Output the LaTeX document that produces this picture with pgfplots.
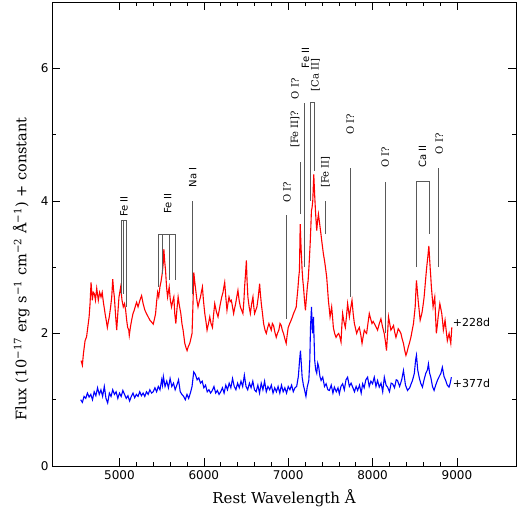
\documentclass[border=0pt]{standalone}
\usepackage{pgfplots}
\pgfplotsset{compat=1.18}
\usepackage{fontspec}
\setmainfont{DejaVu Serif}
\newfontfamily\sansf{DejaVu Sans}
\definecolor{annot}{gray}{0.35}
\begin{document}
\begin{tikzpicture}
\begin{axis}[
  scale only axis, width=464pt, height=464pt,
  xmin=4200, xmax=9700, ymin=0, ymax=7,
  xtick={5000,6000,7000,8000,9000}, ytick={0,2,4,6},
  minor x tick num=4, minor y tick num=1,
  major tick length=8pt, minor tick length=4pt,
  tick style={black, line width=0.6pt},
  axis line style={line width=0.8pt},
  /pgf/number format/assume math mode=true,
  /pgf/number format/1000 sep={},
  ticklabel style={font=\sansf\fontsize{12}{14}\selectfont},
  xticklabel style={yshift=-1pt},
  xlabel={Rest Wavelength Å},
  ylabel={Flux (10\textsuperscript{−17} erg s\textsuperscript{−1} cm\textsuperscript{−2} Å\textsuperscript{−1}) + constant},
  xlabel style={font=\fontsize{15}{17}\selectfont, at={(axis description cs:0.5,-0.069)}, anchor=center},
  ylabel style={font=\fontsize{14.5}{17}\selectfont, at={(axis description cs:-0.066,0.425)}, anchor=center},
]
\addplot[red, line width=1.1pt] coordinates {
(4545,1.59)(4560,1.52)(4572,1.69)(4592,1.89)(4610,1.95)(4624,2.09)(4640,2.25)(4651,2.45)(4663,2.77)(4678,2.50)(4690,2.62)(4702,2.60)(4715,2.50)(4730,2.68)(4749,2.50)(4765,2.62)(4781,2.55)(4795,2.62)(4809,2.47)(4820,2.38)(4829,2.30)(4845,2.18)(4856,2.09)(4868,2.18)(4879,2.25)(4895,2.40)(4908,2.55)(4920,2.82)(4930,2.65)(4939,2.55)(4955,2.25)(4967,2.05)(4980,2.30)(4994,2.55)(5014,2.70)(5030,2.50)(5045,2.40)(5060,2.45)(5073,2.35)(5085,2.20)(5097,2.09)(5110,2.05)(5116,1.97)(5130,2.10)(5144,2.20)(5160,2.30)(5175,2.35)(5190,2.42)(5203,2.47)(5220,2.40)(5242,2.50)(5262,2.57)(5280,2.45)(5301,2.35)(5320,2.30)(5340,2.25)(5360,2.20)(5381,2.17)(5400,2.14)(5415,2.22)(5428,2.30)(5440,2.48)(5452,2.62)(5465,2.55)(5479,2.70)(5492,2.78)(5506,2.90)(5518,3.05)(5526,3.27)(5535,3.10)(5546,2.95)(5558,2.70)(5570,2.55)(5589,2.70)(5603,2.50)(5617,2.40)(5630,2.48)(5644,2.55)(5655,2.30)(5668,2.15)(5680,2.35)(5695,2.55)(5710,2.42)(5727,2.30)(5740,2.15)(5754,2.05)(5774,1.85)(5790,1.78)(5801,1.74)(5815,1.80)(5833,1.85)(5846,1.92)(5860,2.00)(5870,2.40)(5881,2.92)(5892,2.78)(5904,2.65)(5918,2.50)(5931,2.40)(5945,2.48)(5960,2.55)(5970,2.62)(5983,2.70)(5995,2.50)(6011,2.30)(6025,2.18)(6038,2.05)(6055,2.15)(6070,2.25)(6085,2.15)(6102,2.09)(6115,2.28)(6129,2.45)(6150,2.32)(6168,2.25)(6182,2.35)(6196,2.45)(6212,2.55)(6227,2.62)(6237,2.70)(6247,2.77)(6260,2.55)(6274,2.35)(6285,2.45)(6298,2.55)(6312,2.48)(6326,2.50)(6340,2.40)(6353,2.30)(6365,2.38)(6377,2.45)(6390,2.55)(6404,2.65)(6418,2.50)(6433,2.40)(6448,2.35)(6463,2.30)(6475,2.50)(6483,2.70)(6494,2.90)(6504,3.10)(6512,2.80)(6522,2.55)(6537,2.40)(6551,2.30)(6567,2.45)(6582,2.55)(6592,2.40)(6602,2.30)(6615,2.35)(6629,2.40)(6645,2.55)(6661,2.75)(6670,2.60)(6681,2.45)(6695,2.30)(6708,2.15)(6725,2.05)(6740,2.00)(6755,2.08)(6771,2.15)(6785,2.10)(6799,2.05)(6812,2.15)(6826,2.12)(6842,2.02)(6858,1.94)(6872,2.00)(6889,2.05)(6903,2.15)(6917,2.12)(6930,2.05)(6944,2.00)(6960,1.92)(6976,1.85)(6988,1.98)(7000,2.09)(7018,2.15)(7035,2.20)(7050,2.25)(7063,2.30)(7080,2.35)(7095,2.40)(7105,2.55)(7113,2.65)(7125,2.85)(7133,2.95)(7142,3.65)(7152,3.30)(7165,2.95)(7173,2.80)(7181,2.70)(7193,2.50)(7204,2.35)(7212,2.48)(7220,2.60)(7228,2.72)(7236,2.80)(7248,3.05)(7260,3.35)(7268,3.60)(7275,3.85)(7283,3.90)(7291,4.00)(7297,4.20)(7303,4.40)(7313,4.10)(7323,3.85)(7330,3.70)(7338,3.55)(7348,3.70)(7358,3.80)(7368,3.70)(7378,3.60)(7388,3.50)(7397,3.40)(7407,3.30)(7417,3.20)(7430,3.10)(7441,3.00)(7456,2.85)(7466,2.68)(7476,2.50)(7486,2.38)(7496,2.25)(7505,2.32)(7515,2.40)(7525,2.25)(7535,2.09)(7550,2.00)(7567,1.94)(7583,1.98)(7598,2.00)(7612,1.95)(7626,1.87)(7635,2.10)(7645,2.30)(7660,2.18)(7677,2.09)(7690,2.25)(7704,2.45)(7715,2.35)(7725,2.25)(7740,2.38)(7756,2.50)(7770,2.30)(7784,2.15)(7797,2.08)(7811,2.00)(7826,2.05)(7843,2.09)(7860,1.98)(7875,1.85)(7888,1.95)(7902,2.05)(7915,2.02)(7929,2.00)(7945,2.15)(7961,2.30)(7977,2.22)(7993,2.15)(8007,2.18)(8020,2.15)(8040,2.10)(8059,2.05)(8080,2.15)(8099,2.22)(8118,2.10)(8138,2.00)(8152,1.88)(8165,1.74)(8178,2.00)(8189,2.25)(8203,2.15)(8217,2.05)(8232,2.08)(8248,2.12)(8262,2.02)(8277,1.94)(8290,2.00)(8304,2.07)(8320,2.04)(8336,2.00)(8350,1.92)(8366,1.85)(8380,1.75)(8395,1.67)(8408,1.72)(8422,1.79)(8438,1.86)(8454,1.94)(8470,2.05)(8485,2.15)(8495,2.28)(8505,2.40)(8512,2.60)(8520,2.80)(8530,2.65)(8540,2.50)(8552,2.35)(8564,2.20)(8574,2.25)(8584,2.30)(8598,2.42)(8611,2.55)(8621,2.70)(8631,2.85)(8640,2.98)(8650,3.10)(8658,3.20)(8667,3.32)(8675,3.15)(8682,3.00)(8690,2.85)(8697,2.70)(8707,2.55)(8717,2.40)(8727,2.48)(8737,2.55)(8746,2.28)(8756,2.00)(8767,2.12)(8777,2.25)(8787,2.35)(8797,2.45)(8808,2.38)(8820,2.30)(8830,2.18)(8839,2.05)(8849,2.12)(8859,2.20)(8872,2.05)(8886,1.89)(8897,1.95)(8907,2.00)(8917,1.92)(8927,1.85)(8939,2.09)
};
\addplot[blue, line width=1.1pt] coordinates {
(4540,1.00)(4560,0.96)(4580,1.05)(4600,1.02)(4620,1.10)(4640,1.04)(4660,1.08)(4680,1.00)(4700,1.12)(4720,1.06)(4740,1.18)(4760,1.08)(4780,1.15)(4800,1.05)(4820,1.20)(4840,1.02)(4860,0.95)(4880,1.10)(4900,1.05)(4920,1.15)(4940,1.08)(4960,1.12)(4980,1.02)(5000,1.10)(5020,1.05)(5040,1.14)(5060,1.08)(5080,1.02)(5100,1.06)(5120,0.98)(5140,1.05)(5160,1.10)(5180,1.03)(5200,1.08)(5220,1.05)(5240,1.12)(5260,1.06)(5280,1.10)(5300,1.05)(5320,1.12)(5340,1.08)(5360,1.15)(5380,1.10)(5400,1.12)(5420,1.18)(5440,1.12)(5460,1.20)(5480,1.15)(5500,1.30)(5510,1.22)(5520,1.35)(5540,1.20)(5560,1.28)(5580,1.18)(5600,1.32)(5620,1.20)(5640,1.25)(5660,1.15)(5680,1.22)(5700,1.30)(5720,1.12)(5740,1.08)(5760,1.05)(5780,1.00)(5800,1.08)(5820,1.02)(5840,1.10)(5860,1.20)(5880,1.42)(5900,1.38)(5920,1.30)(5940,1.33)(5960,1.25)(5980,1.28)(6000,1.18)(6020,1.22)(6040,1.12)(6060,1.15)(6080,1.10)(6100,1.14)(6120,1.20)(6140,1.10)(6160,1.14)(6180,1.08)(6200,1.12)(6220,1.18)(6240,1.10)(6260,1.22)(6280,1.15)(6300,1.25)(6320,1.18)(6340,1.32)(6360,1.20)(6380,1.15)(6400,1.25)(6420,1.18)(6440,1.28)(6460,1.20)(6480,1.37)(6500,1.20)(6520,1.15)(6540,1.25)(6560,1.18)(6580,1.28)(6600,1.15)(6620,1.12)(6640,1.22)(6660,1.10)(6680,1.25)(6700,1.15)(6720,1.28)(6740,1.12)(6760,1.20)(6780,1.15)(6800,1.22)(6820,1.10)(6840,1.18)(6860,1.12)(6880,1.20)(6900,1.10)(6920,1.22)(6940,1.12)(6960,1.18)(6980,1.10)(7000,1.20)(7020,1.15)(7040,1.22)(7060,1.12)(7080,1.18)(7100,1.20)(7120,1.35)(7135,1.60)(7145,1.74)(7155,1.55)(7165,1.34)(7180,1.22)(7195,1.14)(7210,1.05)(7225,1.19)(7244,1.29)(7256,1.60)(7264,2.09)(7276,2.40)(7287,2.00)(7299,2.25)(7314,1.59)(7326,1.45)(7338,1.40)(7350,1.55)(7362,1.49)(7376,1.35)(7390,1.29)(7409,1.34)(7430,1.20)(7449,1.24)(7470,1.15)(7488,1.14)(7510,1.22)(7530,1.10)(7547,1.19)(7570,1.12)(7590,1.18)(7606,1.09)(7625,1.20)(7645,1.24)(7665,1.15)(7685,1.30)(7704,1.34)(7725,1.20)(7745,1.25)(7764,1.19)(7785,1.12)(7805,1.20)(7823,1.14)(7845,1.22)(7865,1.10)(7882,1.24)(7900,1.18)(7920,1.30)(7941,1.34)(7960,1.20)(7980,1.28)(8000,1.24)(8020,1.34)(8040,1.20)(8059,1.29)(8079,1.19)(8100,1.25)(8120,1.12)(8139,1.34)(8160,1.22)(8178,1.19)(8200,1.12)(8220,1.25)(8237,1.24)(8260,1.18)(8280,1.30)(8296,1.29)(8320,1.20)(8345,1.30)(8366,1.44)(8390,1.22)(8414,1.14)(8440,1.18)(8460,1.25)(8473,1.29)(8495,1.40)(8510,1.60)(8520,1.67)(8535,1.45)(8552,1.34)(8570,1.25)(8591,1.19)(8610,1.30)(8631,1.40)(8650,1.45)(8662,1.54)(8676,1.40)(8690,1.34)(8710,1.20)(8729,1.14)(8748,1.22)(8768,1.29)(8790,1.35)(8810,1.40)(8827,1.49)(8847,1.35)(8867,1.29)(8885,1.22)(8906,1.19)(8920,1.25)(8934,1.34)
};
% line identifications
\begin{scope}[annot, line width=0.7pt]
\draw (axis cs:5026,2.60) -- (axis cs:5026,3.70) -- (axis cs:5077,3.70) -- (axis cs:5077,2.40);
\draw (axis cs:5050,3.70) -- (axis cs:5050,2.60);
\draw (axis cs:5461,2.70) -- (axis cs:5461,3.50) -- (axis cs:5666,3.50) -- (axis cs:5666,2.80);
\draw (axis cs:5508,3.50) -- (axis cs:5508,2.90);
\draw (axis cs:5593,3.50) -- (axis cs:5593,2.80);
\draw (axis cs:5861,2.60) -- (axis cs:5861,4.00);
\draw (axis cs:6983,2.22) -- (axis cs:6983,3.79);
\draw (axis cs:7142,3.80) -- (axis cs:7142,4.58);
\draw (axis cs:7193,3.00) -- (axis cs:7193,5.48);
\draw (axis cs:7262,4.00) -- (axis cs:7262,5.49) -- (axis cs:7311,5.49) -- (axis cs:7311,4.45);
\draw (axis cs:7441,3.50) -- (axis cs:7441,4.00);
\draw (axis cs:7733,2.55) -- (axis cs:7733,4.50);
\draw (axis cs:8150,2.00) -- (axis cs:8150,4.28);
\draw (axis cs:8520,3.00) -- (axis cs:8520,4.29) -- (axis cs:8670,4.29) -- (axis cs:8670,3.50);
\draw (axis cs:8777,3.00) -- (axis cs:8777,4.49);
\end{scope}
\begin{scope}[every node/.style={rotate=90, anchor=west, inner sep=0pt, font=\fontsize{10}{12}\selectfont}]
\node[font=\sansf\fontsize{10}{12}\selectfont] at (axis cs:5053,3.76) {Fe II};
\node[font=\sansf\fontsize{10}{12}\selectfont] at (axis cs:5573,3.80) {Fe II};
\node[font=\sansf\fontsize{10}{12}\selectfont] at (axis cs:5869,4.20) {Na I};
\node at (axis cs:6985,3.97) {O I?};
\node at (axis cs:7080,4.80) {[Fe II]?};
\node at (axis cs:7080,5.53) {O I?};
\node[font=\sansf\fontsize{10}{12}\selectfont] at (axis cs:7205,6.00) {Fe II};
\node at (axis cs:7323,5.65) {[Ca II]};
\node at (axis cs:7441,4.20) {[Fe II]};
\node at (axis cs:7735,5.00) {O I?};
\node at (axis cs:8150,4.50) {O I?};
\node[font=\sansf\fontsize{10}{12}\selectfont] at (axis cs:8590,4.50) {Ca II};
\node at (axis cs:8790,4.70) {O I?};
\end{scope}
\node[anchor=west, inner sep=0pt, font=\sansf\fontsize{11}{13}\selectfont] at (axis cs:8950,2.17) {+228d};
\node[anchor=west, inner sep=0pt, font=\sansf\fontsize{11}{13}\selectfont] at (axis cs:8950,1.25) {+377d};
\end{axis}
\pgfresetboundingbox
\useasboundingbox ([shift={(-52pt,-43pt)}]current axis.south west) rectangle ([shift={(466pt,466pt)}]current axis.south west);
\end{tikzpicture}
\end{document}
